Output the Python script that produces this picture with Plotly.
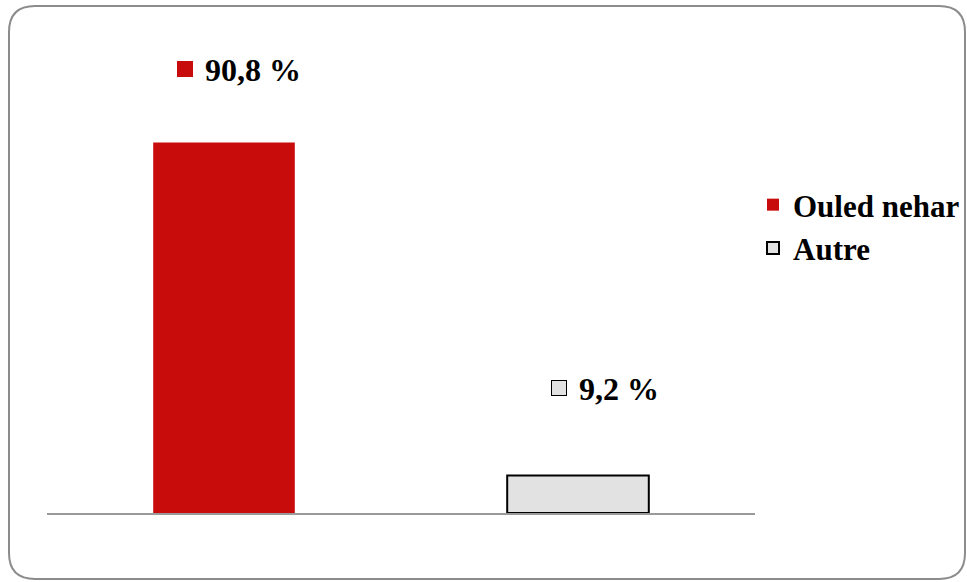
import plotly.graph_objects as go

# Data
categories = ["Ouled nehar", "Autre"]
values = [90.8, 9.2]
labels = ["90,8 %", "9,2 %"]
colors = ["#C80C0C", "#E2E2E2"]
outline_colors = ["#C80C0C", "#000000"]
outline_widths = [0, 2]

W, H = 967, 582
ML, MR, MT, MB = 47, 212, 105, 69
PW, PH = W - ML - MR, H - MT - MB

def px(x):
    return (x - ML) / PW

def py(y):
    return (H - MB - y) / PH

fig = go.Figure()
for cat, val, col, oc, ow in zip(categories, values, colors, outline_colors, outline_widths):
    fig.add_trace(go.Bar(
        x=[cat], y=[val], name=cat,
        marker=dict(color=col, line=dict(color=oc, width=ow)),
        width=0.4,
        hoverinfo="skip",
    ))

# value labels with square markers
text_shift = [(29, 72.5), (41, 86.5)]
sq_shift = [(-39, 74), (-19, 87.5)]
for i, (cat, val, lab) in enumerate(zip(categories, values, labels)):
    fig.add_annotation(
        x=cat, y=val, xref="x", yref="y", text="<b>" + lab + "</b>",
        showarrow=False, xshift=text_shift[i][0], yshift=text_shift[i][1],
        font=dict(family="Liberation Serif", size=32, color="black"),
    )
    fig.add_annotation(
        x=cat, y=val, xref="x", yref="y", text=" ",
        showarrow=False, xshift=sq_shift[i][0], yshift=sq_shift[i][1],
        width=14 if i == 1 else 16, height=14 if i == 1 else 16,
        bgcolor=colors[i], bordercolor=outline_colors[i],
        borderwidth=1 if i == 1 else 0, borderpad=0,
        font=dict(size=4),
    )

# rounded border frame (pixel coordinates converted to paper)
x0, y0, x1, y1, r = 9, 6, 965, 579, 26
path = (
    f"M {px(x0 + r)},{py(y0)} L {px(x1 - r)},{py(y0)} "
    f"Q {px(x1)},{py(y0)} {px(x1)},{py(y0 + r)} "
    f"L {px(x1)},{py(y1 - r)} "
    f"Q {px(x1)},{py(y1)} {px(x1 - r)},{py(y1)} "
    f"L {px(x0 + r)},{py(y1)} "
    f"Q {px(x0)},{py(y1)} {px(x0)},{py(y1 - r)} "
    f"L {px(x0)},{py(y0 + r)} "
    f"Q {px(x0)},{py(y0)} {px(x0 + r)},{py(y0)} Z"
)
fig.add_shape(type="path", path=path, xref="paper", yref="paper",
              line=dict(color="#8C8C8C", width=2), layer="below")

fig.update_layout(
    width=W, height=H,
    margin=dict(l=ML, r=MR, t=MT, b=MB, autoexpand=False),
    paper_bgcolor="white", plot_bgcolor="white",
    showlegend=True,
    bargap=0.6,
    legend=dict(
        x=px(753), y=py(178), xanchor="left", yanchor="top",
        font=dict(family="Liberation Serif", size=31, color="black", weight="bold"),
        bgcolor="rgba(0,0,0,0)", tracegroupgap=0, itemsizing="constant",
    ),
    xaxis=dict(showticklabels=False, showgrid=False, zeroline=False,
               showline=True, linecolor="#9A9A9A", linewidth=2, ticks=""),
    yaxis=dict(range=[0, 100], showticklabels=False, showgrid=False,
               zeroline=False, showline=False),
)

fig.write_html("out.html", config={"displayModeBar": False},
               post_script="document.body.style.margin='0';")
